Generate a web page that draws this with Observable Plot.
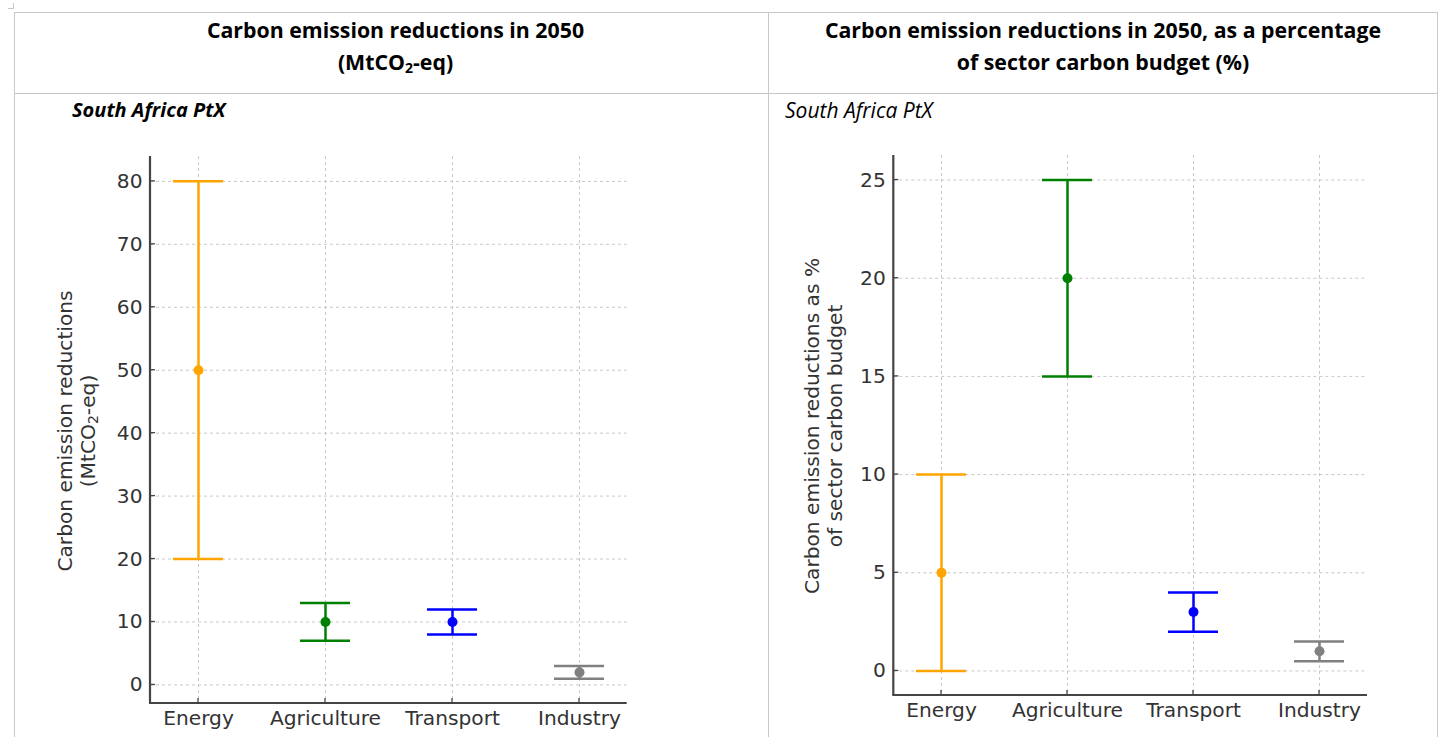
<!DOCTYPE html>
<html><head><meta charset="utf-8">
<script src="https://cdn.jsdelivr.net/npm/d3@7"></script>
<script src="https://cdn.jsdelivr.net/npm/@observablehq/plot@0.6"></script>
<style>
body{margin:0;background:#fff;width:1442px;height:737px;overflow:hidden;position:relative;font-family:"Open Sans",sans-serif;}
.ln{position:absolute;background:#c8c8c8;}
.title{position:absolute;top:14px;font-weight:bold;font-size:21.3px;line-height:32px;text-align:center;color:#000;}
.sub{position:absolute;top:99px;font-style:italic;color:#000;line-height:22px;}
.ylab{position:absolute;font-family:"DejaVu Sans";font-size:20.2px;line-height:23px;color:#333;white-space:nowrap;text-align:center;transform:translate(-50%,-50%) rotate(-90deg);}
.chart{position:absolute;top:130px;}
</style>
</head>
<body>
<div class="ln" style="left:13px;top:3px;width:1px;height:6px;"></div>
<div class="ln" style="left:8px;top:8px;width:6px;height:1px;"></div>
<div class="ln" style="left:14px;top:12px;width:1424px;height:1px;"></div>
<div class="ln" style="left:14px;top:12px;width:1px;height:725px;"></div>
<div class="ln" style="left:14px;top:93px;width:1424px;height:1px;"></div>
<div class="ln" style="left:768px;top:12px;width:1px;height:725px;"></div>
<div class="ln" style="left:1437px;top:12px;width:1px;height:725px;"></div>

<div class="title" style="left:14px;width:763px;">Carbon emission reductions in 2050<br>(MtCO<sub style="font-size:14px;vertical-align:-3px;line-height:0">2</sub>-eq)</div>
<div class="title" style="left:768px;width:670px;">Carbon emission reductions in 2050, as a percentage<br>of sector carbon budget (%)</div>
<div class="sub" style="left:72px;font-weight:bold;font-size:20px;">South Africa PtX</div>
<div class="sub" style="left:785px;font-size:21px;">South Africa PtX</div>

<div class="ylab" style="left:77px;top:431px;">Carbon emission reductions<br>(MtCO<sub style="font-size:14px;vertical-align:-3px;line-height:0">2</sub>-eq)</div>
<div class="ylab" style="left:824px;top:426px;">Carbon emission reductions as %<br>of sector carbon budget</div>

<div id="c1" class="chart" style="left:20px;"></div>
<div id="c2" class="chart" style="left:770px;"></div>

<script>
const sectors = ["Energy", "Agriculture", "Transport", "Industry"];
const colors = ["#FFA500", "#008000", "#0000FF", "#808080"];

const absMean = [50, 10, 10, 2];
const absLow  = [20, 7, 8, 1];
const absHigh = [80, 13, 12, 3];
const absTicks = [0, 10, 20, 30, 40, 50, 60, 70, 80];

const pctMean = [5, 20, 3, 1];
const pctLow  = [0, 15, 2, 0.5];
const pctHigh = [10, 25, 4, 1.5];
const pctTicks = [0, 5, 10, 15, 20, 25];

// spines (left + bottom) with inward tick marks, drawn from the plot's own scales
function spines(ticks) {
  return (index, scales, values, dims) => {
    const g = d3.create("svg:g").attr("stroke", "#444").attr("fill", "none");
    const x0 = dims.marginLeft, x1 = dims.width - dims.marginRight;
    const y0 = dims.marginTop, y1 = dims.height - dims.marginBottom;
    g.append("line").attr("x1", x0).attr("x2", x0).attr("y1", y0).attr("y2", y1).attr("stroke-width", 2.2);
    g.append("line").attr("x1", x0 - 1).attr("x2", x1).attr("y1", y1).attr("y2", y1).attr("stroke-width", 2.2);
    const bw = typeof scales.x.bandwidth === "function" ? scales.x.bandwidth() : (scales.x.bandwidth ?? 0);
    for (const t of ticks) {
      const y = scales.y(t);
      g.append("line").attr("x1", x0).attr("x2", x0 + 5).attr("y1", y).attr("y2", y).attr("stroke-width", 1.3);
    }
    for (const s of sectors) {
      const x = scales.x(s) + bw / 2;
      g.append("line").attr("x1", x).attr("x2", x).attr("y1", y1).attr("y2", y1 - 5).attr("stroke-width", 1.3);
    }
    return g.node();
  };
}

function chart({mean, low, high, ticks, domain, height, mt, mb, ml, mr}) {
  const data = sectors.map((s, i) => ({sector: s, mean: mean[i], low: low[i], high: high[i]}));
  const grid = {stroke: "#c8c8c8", strokeOpacity: 1, strokeDasharray: "3,3", strokeWidth: 1};
  const bar = {stroke: "sector", strokeWidth: 2.5};
  return Plot.plot({
    width: 620, height,
    marginTop: mt, marginBottom: mb, marginLeft: ml, marginRight: mr,
    style: {fontFamily: "DejaVu Sans", fontSize: "20.2px", color: "#333", background: "transparent", overflow: "visible"},
    x: {type: "band", domain: sectors, paddingInner: 0.4, paddingOuter: 0.0745},
    y: {domain},
    color: {domain: sectors, range: colors},
    marks: [
      Plot.gridY(ticks, grid),
      Plot.gridX(grid),
      Plot.ruleX(data, {x: "sector", y1: "low", y2: "high", ...bar}),
      Plot.tickY(data, {x: "sector", y: "low", insetLeft: 13, insetRight: 13, ...bar}),
      Plot.tickY(data, {x: "sector", y: "high", insetLeft: 13, insetRight: 13, ...bar}),
      Plot.dot(data, {x: "sector", y: "mean", fill: "sector", r: 5}),
      Plot.axisY(ticks, {tickSize: 0, tickPadding: 8, label: null}),
      Plot.axisX({tickSize: 0, tickPadding: 7, label: null}),
      spines(ticks)
    ]
  });
}

document.getElementById("c1").append(chart({
  mean: absMean, low: absLow, high: absHigh, ticks: absTicks,
  domain: [-2.95, 83.95], height: 607, mt: 26, mb: 34, ml: 130, mr: 13.3
}));
document.getElementById("c2").append(chart({
  mean: pctMean, low: pctLow, high: pctHigh, ticks: pctTicks,
  domain: [-1.25, 26.25], height: 607, mt: 25, mb: 42, ml: 123.3, mr: 23
}));
</script>
</body></html>
